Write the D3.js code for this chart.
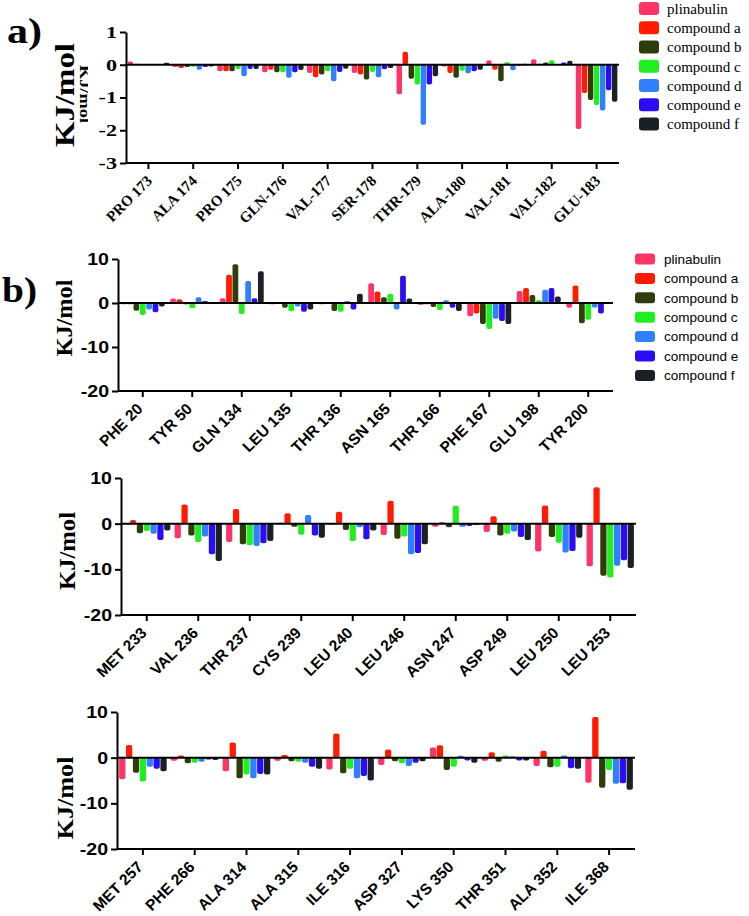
<!DOCTYPE html>
<html>
<head>
<meta charset="utf-8">
<script src="https://cdn.jsdelivr.net/npm/d3@7"></script>
<style>
  html, body { margin: 0; padding: 0; background: #fff; }
  svg { display: block; }
</style>
</head>
<body>
<svg id="chart" width="749" height="916"></svg>
<script>
// ---------- DATA ----------
const seriesNames = ["plinabulin", "compound a", "compound b", "compound c", "compound d", "compound e", "compound f"];
const seriesColors = ["#ff3366", "#ff1a00", "#2f3c0c", "#20ee20", "#2f7fff", "#2a0cf5", "#1b2026"];

const residuesA = ["PRO 173", "ALA 174", "PRO 175", "GLN-176", "VAL-177", "SER-178", "THR-179", "ALA-180", "VAL-181", "VAL-182", "GLU-183"];
const valuesA = [
  [0.10, -0.07, -0.20, -0.23, -0.25, -0.25, -0.90, -0.05, 0.14, 0.17, -1.96],
  [0.03, -0.10, -0.20, -0.15, -0.38, -0.30, 0.40, -0.25, -0.15, 0.03, -0.86],
  [0.02, -0.07, -0.20, -0.23, -0.30, -0.45, -0.43, -0.40, -0.50, 0.07, -1.08],
  [0.02, -0.06, -0.13, -0.23, -0.20, -0.22, -0.60, -0.18, 0.08, 0.14, -1.23],
  [0.02, -0.15, -0.35, -0.40, -0.50, -0.38, -1.83, -0.26, -0.17, 0.02, -1.40],
  [0.02, -0.07, -0.13, -0.23, -0.22, -0.14, -0.60, -0.20, -0.03, 0.07, -0.78],
  [0.06, -0.05, -0.13, -0.16, -0.12, -0.10, -0.35, -0.15, 0.03, 0.12, -1.13]
];
const ticksA = [1, 0, -1, -2, -3];

const residuesB1 = ["PHE 20", "TYR 50", "GLN 134", "LEU 135", "THR 136", "ASN 165", "THR 166", "PHE 167", "GLU 198", "TYR 200"];
const valuesB1 = [
  [-0.3, 1.0, 1.1, -0.3, -0.3, 4.5, -0.4, -3.0, 2.7, -1.1],
  [-0.3, 0.85, 6.4, -0.2, 0.05, 2.6, -0.3, -2.4, 3.4, 4.0],
  [-1.75, -0.3, 8.8, -1.1, -1.8, 1.3, -0.9, -4.8, 1.8, -4.6],
  [-2.7, -1.2, -2.5, -1.9, -2.0, 2.1, -1.6, -5.9, 0.7, -3.8],
  [-1.5, 1.3, 5.0, -0.8, 0.45, -1.5, 0.6, -3.6, 3.0, -1.0],
  [-2.1, 0.45, 1.1, -2.0, -1.5, 6.2, -1.1, -4.1, 3.4, -2.4],
  [-0.8, 0.1, 7.2, -1.5, 2.1, 1.0, -1.8, -4.8, 1.5, -0.1]
];

const residuesB2 = ["MET 233", "VAL 236", "THR 237", "CYS 239", "LEU 240", "LEU 246", "ASN 247", "ASP 249", "LEU 250", "LEU 253"];
const valuesB2 = [
  [-0.2, -3.2, -4.0, 0.2, -0.2, -2.5, -0.7, -1.8, -6.1, -9.3],
  [0.8, 4.2, 3.2, 2.3, 2.6, 5.0, 0.3, 1.6, 4.0, 8.0],
  [-2.1, -2.6, -4.5, -0.7, -1.4, -3.3, -0.8, -2.6, -2.9, -11.4],
  [-1.6, -4.0, -4.7, -2.4, -3.8, -2.8, 3.9, -2.2, -4.2, -11.8],
  [-2.2, -2.8, -4.9, 1.9, -0.8, -6.7, -0.7, -1.7, -6.3, -9.2],
  [-3.6, -6.7, -4.3, -2.6, -3.4, -6.4, -0.5, -2.9, -6.0, -8.0],
  [-1.5, -8.2, -3.8, -3.1, -1.5, -4.5, -0.3, -3.6, -3.1, -9.7]
];

const residuesB3 = ["MET 257", "PHE 266", "ALA 314", "ALA 315", "ILE 316", "ASP 327", "LYS 350", "THR 351", "ALA 352", "ILE 368"];
const valuesB3 = [
  [-4.7, -0.7, -3.0, -0.7, -2.6, -1.6, 2.2, -0.7, -1.8, -5.5],
  [2.8, 0.5, 3.3, 0.6, 5.3, 1.8, 2.7, 1.2, 1.5, 8.9],
  [-3.3, -1.2, -4.5, -0.8, -3.4, -0.8, -2.7, -0.9, -2.1, -6.6],
  [-5.2, -1.1, -3.7, -0.9, -2.4, -1.2, -2.0, 0.5, -2.0, -2.7],
  [-2.0, -0.9, -4.5, -1.1, -4.5, -1.8, 0.4, 0.3, 0.5, -5.7],
  [-2.4, -0.4, -3.6, -2.0, -4.0, -1.1, -0.6, -0.6, -2.3, -5.6],
  [-3.0, -0.5, -3.7, -2.4, -5.0, -0.8, -1.1, -0.6, -2.4, -7.0]
];
const ticksB = [10, 0, -10, -20];

// ---------- DRAW ----------
const svg = d3.select("#chart");
const SERIF = "'Liberation Serif', 'Times New Roman', serif";
const SANS = "'Liberation Sans', Arial, Helvetica, sans-serif";

function drawPanel(cfg) {
  const g = svg.append("g");
  const x0 = d3.scaleBand().domain(cfg.categories).range(cfg.xRange)
    .paddingInner(cfg.pad).paddingOuter(cfg.pad / 2);
  const x1 = d3.scaleBand().domain(d3.range(seriesNames.length)).range([0, x0.bandwidth()]);
  const y = d3.scaleLinear().domain(cfg.domain).range(cfg.yRange);

  // bars
  cfg.values.forEach((vals, s) => {
    g.append("g").selectAll("rect").data(vals).join("rect")
      .attr("x", (d, i) => x0(cfg.categories[i]) + x1(s) + 0.3)
      .attr("width", x1.bandwidth() - 0.6)
      .attr("y", d => y(Math.max(0, d)))
      .attr("height", d => Math.abs(y(d) - y(0)))
      .attr("rx", 2)
      .attr("fill", seriesColors[s]);
  });

  // zero line
  g.append("line")
    .attr("x1", cfg.xRange[0]).attr("x2", cfg.xRange[1])
    .attr("y1", y(0)).attr("y2", y(0))
    .attr("stroke", "#000").attr("stroke-width", 2);

  // y axis
  const ya = g.append("g").attr("transform", `translate(${cfg.xRange[0]},0)`)
    .call(d3.axisLeft(y).tickValues(cfg.ticks).tickFormat(d => String(d)).tickSize(6).tickSizeOuter(0).tickPadding(3));
  ya.select(".domain").attr("stroke-width", 2);
  ya.selectAll(".tick line").attr("stroke-width", 2);
  ya.selectAll(".tick text")
    .attr("font-family", cfg.tickFont).attr("font-weight", "bold")
    .attr("font-size", cfg.tickSize).attr("fill", "#000")
    .each(function () {
      const l = this.getComputedTextLength();
      d3.select(this).attr("textLength", l * cfg.tickStretch).attr("lengthAdjust", "spacingAndGlyphs");
    });

  // x axis
  const xa = g.append("g").attr("transform", `translate(0,${cfg.yRange[0]})`)
    .call(d3.axisBottom(x0).tickSize(6).tickSizeOuter(0));
  xa.select(".domain").attr("stroke-width", 2)
    .attr("d", `M${cfg.xRange[0]},0H${cfg.xRange[1]}`);
  xa.selectAll(".tick line").attr("stroke-width", 2);
  xa.selectAll(".tick text")
    .attr("font-family", cfg.labelFont).attr("font-weight", "bold")
    .attr("font-size", cfg.labelSize).attr("fill", "#000")
    .attr("text-anchor", "end")
    .attr("x", 0).attr("y", 0).attr("dy", "0.35em")
    .attr("transform", `translate(${cfg.labelOffset[0]},${cfg.labelOffset[1]}) rotate(-45)`);

  // y title
  g.append("text")
    .attr("transform", `translate(${cfg.titlePos[0]},${cfg.titlePos[1]}) rotate(-90)`)
    .attr("text-anchor", "middle")
    .attr("font-family", SERIF).attr("font-weight", "bold")
    .attr("font-size", cfg.titleSize)
    .attr("textLength", cfg.titleLength).attr("lengthAdjust", "spacingAndGlyphs")
    .text("KJ/mol");

  return { g, y };
}

function drawLegend(x, yStart, step, sw, sh, font, size, textX) {
  const lg = svg.append("g");
  seriesNames.forEach((n, i) => {
    const cy = yStart + i * step;
    lg.append("rect").attr("x", x).attr("y", cy - sh / 2).attr("width", sw).attr("height", sh)
      .attr("rx", 3).attr("fill", seriesColors[i]);
    lg.append("text").attr("x", textX).attr("y", cy).attr("dy", "0.35em")
      .attr("font-family", font).attr("font-size", size).attr("fill", "#000")
      .text(n);
  });
}

// Panel a
drawPanel({
  categories: residuesA, values: valuesA, ticks: ticksA,
  xRange: [126, 619], yRange: [163, 32], domain: [-3, 1], pad: 0.06,
  tickFont: SERIF, tickSize: 17, tickStretch: 1.3,
  labelFont: SERIF, labelSize: 15, labelOffset: [1, 15],
  titlePos: [74, 95], titleSize: 27, titleLength: 104
});
// ghost label artifact in panel a (clipped, reading top to bottom)
svg.append("clipPath").attr("id", "ghostClip")
  .append("rect").attr("x", 70).attr("y", 40).attr("width", 18).attr("height", 110);
svg.append("g").attr("clip-path", "url(#ghostClip)")
  .append("text")
  .attr("transform", "translate(80,94) rotate(90)")
  .attr("text-anchor", "middle")
  .attr("font-family", SERIF).attr("font-weight", "bold").attr("font-size", 15)
  .attr("textLength", 58).attr("lengthAdjust", "spacingAndGlyphs")
  .text("KJ/mol");

svg.append("text").attr("x", 7).attr("y", 43)
  .attr("font-family", SERIF).attr("font-weight", "bold").attr("font-size", 36)
  .attr("textLength", 35).attr("lengthAdjust", "spacingAndGlyphs")
  .text("a)");
drawLegend(639, 8.5, 19.25, 20, 13, SERIF, 15, 667);

// Panel b (three rows)
const bCommon = {
  ticks: ticksB, domain: [-20, 10],
  tickFont: SANS, tickSize: 17, tickStretch: 1.15,
  labelFont: SANS, labelSize: 15.5, labelOffset: [-3, 15],
  titleSize: 24
};
drawPanel(Object.assign({}, bCommon, {
  categories: residuesB1, values: valuesB1,
  xRange: [118, 613], yRange: [391, 259], pad: 0.1,
  titlePos: [72, 318], titleLength: 77
}));
drawPanel(Object.assign({}, bCommon, {
  categories: residuesB2, values: valuesB2,
  xRange: [121, 636], yRange: [615, 478], pad: 0.07,
  titlePos: [75, 551], titleLength: 78
}));
drawPanel(Object.assign({}, bCommon, {
  categories: residuesB3, values: valuesB3,
  xRange: [117, 635], yRange: [849, 712], pad: 0.07,
  titlePos: [73, 798], titleLength: 83
}));

svg.append("text").attr("x", 2).attr("y", 302)
  .attr("font-family", SERIF).attr("font-weight", "bold").attr("font-size", 36)
  .attr("textLength", 35).attr("lengthAdjust", "spacingAndGlyphs")
  .text("b)");
drawLegend(635, 259, 19.4, 20, 11, SANS, 13.5, 664);
</script>
</body>
</html>
